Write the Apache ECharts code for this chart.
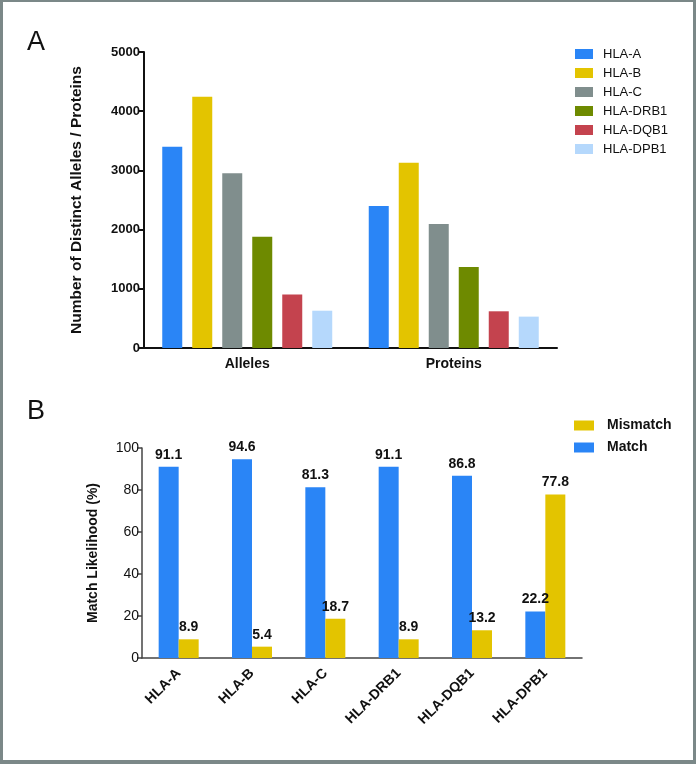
<!DOCTYPE html>
<html>
<head>
<meta charset="utf-8">
<script src="https://cdn.jsdelivr.net/npm/echarts@6/dist/echarts.min.js"></script>
<style>
html,body{margin:0;padding:0;background:#fff;}
#frame{position:absolute;left:0;top:0;width:696px;height:764px;box-sizing:border-box;border-left:3px solid #7b8888;border-top:2px solid #7b8888;border-right:3px solid #7b8888;border-bottom:4px solid #7b8888;pointer-events:none;z-index:5;}
#chart{width:696px;height:764px;}
</style>
</head>
<body>
<div id="chart"></div>
<div id="frame"></div>
<script>
// Panel A data
const groupCategories = ['Alleles', 'Proteins'];
const locusNames = ['HLA-A', 'HLA-B', 'HLA-C', 'HLA-DRB1', 'HLA-DQB1', 'HLA-DPB1'];
const hlaA = [3400, 2400];
const hlaB = [4245, 3130];
const hlaC = [2950, 2095];
const hlaDRB1 = [1880, 1370];
const hlaDQB1 = [905, 620];
const hlaDPB1 = [630, 530];
const countTicks = [0, 1000, 2000, 3000, 4000, 5000];

// Panel B data
const matchCategories = ['HLA-A', 'HLA-B', 'HLA-C', 'HLA-DRB1', 'HLA-DQB1', 'HLA-DPB1'];
const matchValues = [91.1, 94.6, 81.3, 91.1, 86.8, 22.2];
const mismatchValues = [8.9, 5.4, 18.7, 8.9, 13.2, 77.8];
const percentTicks = [0, 20, 40, 60, 80, 100];

const locusColors = ['#2a85f6', '#e3c400', '#808e8d', '#6e8a00', '#c4434e', '#b5d8fc'];
const matchColor = '#2a85f6';
const mismatchColor = '#e3c400';
const FONT = 'Liberation Sans, Arial, sans-serif';

const locusData = [hlaA, hlaB, hlaC, hlaDRB1, hlaDQB1, hlaDPB1];

const chart = echarts.init(document.getElementById('chart'), null, {renderer: 'canvas'});

const seriesA = locusNames.map((name, i) => ({
  name: name,
  type: 'bar',
  xAxisIndex: 0,
  yAxisIndex: 0,
  data: locusData[i],
  barWidth: 20,
  barGap: '50%',
  itemStyle: {color: locusColors[i]}
}));

const labelCfg = {
  show: true,
  position: 'top',
  distance: 5,
  color: '#111',
  fontFamily: FONT,
  fontWeight: 'bold',
  fontSize: 14,
  formatter: p => p.value.toFixed(1)
};

const option = {
  animation: false,
  backgroundColor: '#fff',
  textStyle: {fontFamily: FONT},
  title: [
    {text: 'A', left: 22, top: 24, textStyle: {fontFamily: FONT, fontSize: 27, fontWeight: 'normal', color: '#111'}},
    {text: 'B', left: 22, top: 393, textStyle: {fontFamily: FONT, fontSize: 27, fontWeight: 'normal', color: '#111'}}
  ],
  legend: [
    {
      data: locusNames,
      orient: 'vertical',
      left: 570,
      top: 42,
      itemWidth: 18,
      itemHeight: 10,
      itemGap: 5,
      icon: 'rect',
      textStyle: {fontFamily: FONT, fontSize: 13, color: '#111', lineHeight: 14, padding: [0, 0, 0, 5]}
    },
    {
      data: ['Mismatch', 'Match'],
      orient: 'vertical',
      left: 569,
      top: 413,
      itemWidth: 20,
      itemHeight: 10,
      itemGap: 7,
      icon: 'rect',
      textStyle: {fontFamily: FONT, fontSize: 14, fontWeight: 'bold', color: '#111', lineHeight: 15, padding: [0, 0, 0, 8]}
    }
  ],
  grid: [
    {left: 144, right: 139, top: 52, bottom: 416},
    {left: 142, right: 114, top: 448, bottom: 106}
  ],
  xAxis: [
    {
      type: 'category',
      gridIndex: 0,
      data: groupCategories,
      axisLine: {lineStyle: {color: '#111', width: 2}},
      axisTick: {alignWithLabel: true, length: 5, lineStyle: {color: '#111', width: 2}},
      axisLabel: {fontFamily: FONT, fontSize: 14, fontWeight: 'bold', color: '#111', margin: 9}
    },
    {
      type: 'category',
      gridIndex: 1,
      data: matchCategories,
      axisLine: {lineStyle: {color: '#444', width: 1.5}},
      axisTick: {alignWithLabel: true, length: 5, lineStyle: {color: '#444', width: 1.5}},
      axisLabel: {fontFamily: FONT, fontSize: 14, fontWeight: 'bold', color: '#111', rotate: 45, margin: 13, interval: 0}
    }
  ],
  yAxis: [
    {
      type: 'value',
      gridIndex: 0,
      min: countTicks[0],
      max: countTicks[countTicks.length - 1],
      interval: 1000,
      name: 'Number of Distinct Alleles / Proteins',
      nameLocation: 'middle',
      nameGap: 59,
      nameTextStyle: {fontFamily: FONT, fontSize: 15.5, fontWeight: 'bold', color: '#111'},
      axisLine: {show: true, lineStyle: {color: '#111', width: 2}},
      axisTick: {show: true, length: 5, lineStyle: {color: '#111', width: 2}},
      axisLabel: {fontFamily: FONT, fontSize: 13, fontWeight: 'bold', color: '#111', margin: 4, formatter: v => String(v)},
      splitLine: {show: false}
    },
    {
      type: 'value',
      gridIndex: 1,
      min: percentTicks[0],
      max: percentTicks[percentTicks.length - 1],
      interval: 20,
      name: 'Match Likelihood (%)',
      nameLocation: 'middle',
      nameGap: 42,
      nameTextStyle: {fontFamily: FONT, fontSize: 14, fontWeight: 'bold', color: '#111'},
      axisLine: {show: true, lineStyle: {color: '#444', width: 1.5}},
      axisTick: {show: true, length: 5, lineStyle: {color: '#444', width: 1.5}},
      axisLabel: {fontFamily: FONT, fontSize: 14, color: '#111', margin: 3, formatter: v => String(v)},
      splitLine: {show: false}
    }
  ],
  series: seriesA.concat([
    {
      name: 'Match',
      type: 'bar',
      xAxisIndex: 1,
      yAxisIndex: 1,
      data: matchValues,
      barWidth: 20,
      barGap: '0%',
      itemStyle: {color: matchColor},
      label: labelCfg
    },
    {
      name: 'Mismatch',
      type: 'bar',
      xAxisIndex: 1,
      yAxisIndex: 1,
      data: mismatchValues,
      barWidth: 20,
      barGap: '0%',
      itemStyle: {color: mismatchColor},
      label: labelCfg
    }
  ])
};

chart.setOption(option);
</script>
</body>
</html>
